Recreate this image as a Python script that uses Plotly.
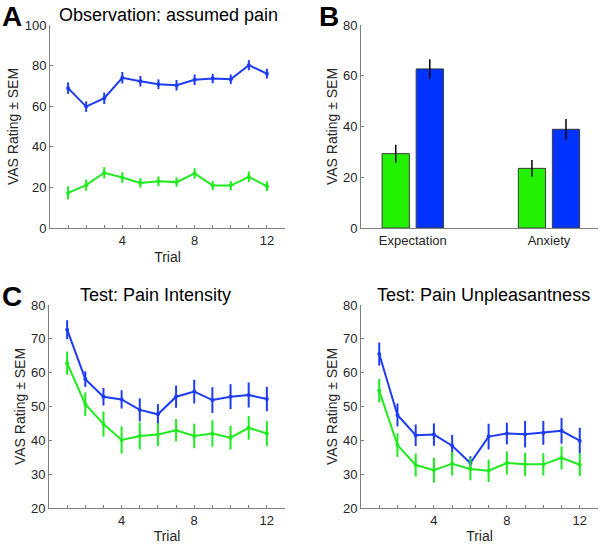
import plotly.graph_objects as go

W, H = 600, 544

trials = list(range(1, 13))

# Panel A: Observation - assumed pain
obs_blue = [68.9, 59.8, 63.9, 74.0, 72.3, 70.8, 70.3, 73.0, 73.6, 73.3, 80.2, 76.0]
obs_blue_sem = [2.8, 2.6, 2.8, 2.8, 2.6, 2.4, 2.6, 2.6, 2.3, 2.3, 2.5, 2.4]
obs_green = [17.3, 21.1, 27.2, 24.9, 22.2, 23.0, 22.6, 26.9, 20.9, 20.9, 25.2, 20.6]
obs_green_sem = [3.2, 2.8, 2.8, 2.6, 2.4, 2.4, 2.3, 2.6, 2.2, 2.2, 2.6, 2.4]

# Panel B: bars
bar_cats = ["Expectation", "Anxiety"]
bar_green = [29.3, 23.5]
bar_green_sem = [3.5, 3.3]
bar_blue = [62.7, 38.9]
bar_blue_sem = [3.8, 4.1]

# Panel C left: Pain intensity
int_blue = [72.7, 58.1, 52.9, 52.1, 49.0, 47.7, 52.9, 54.4, 51.9, 52.9, 53.4, 52.2]
int_blue_sem = [2.8, 2.3, 2.6, 2.7, 3.4, 3.0, 3.3, 3.5, 3.8, 3.7, 3.7, 3.6]
int_green = [62.8, 50.7, 44.8, 40.1, 41.3, 41.7, 43.0, 41.3, 42.0, 40.8, 43.7, 42.0]
int_green_sem = [3.4, 3.5, 3.7, 4.0, 4.0, 3.4, 3.3, 3.6, 3.9, 3.5, 3.5, 3.7]

# Panel C right: Pain unpleasantness
unp_blue = [65.5, 47.5, 41.5, 41.7, 38.4, 33.3, 41.1, 42.0, 41.8, 42.2, 42.8, 39.9]
unp_blue_sem = [3.4, 3.4, 3.2, 3.3, 3.2, 2.0, 3.8, 3.2, 3.9, 3.5, 3.8, 3.8]
unp_green = [54.7, 38.6, 32.7, 31.2, 33.1, 31.5, 31.0, 33.3, 32.9, 32.9, 34.8, 32.8]
unp_green_sem = [3.5, 3.5, 3.4, 3.7, 3.5, 3.3, 3.3, 3.4, 3.4, 3.3, 3.4, 3.4]

GREEN = "#1EEB1E"
BLUE = "#1E3CF5"
BAR_GREEN = "#22F200"
BAR_BLUE = "#0033FF"
FONT = "Liberation Sans, Arial, sans-serif"
TXT = "#262626"

fig = go.Figure()


def line_trace(y, sem, color, xa, ya):
    return go.Scatter(
        x=trials, y=y, mode="lines+markers",
        line=dict(color=color, width=2),
        marker=dict(color=color, size=4),
        error_y=dict(type="data", array=sem, color=color, thickness=2, width=0),
        xaxis=xa, yaxis=ya, showlegend=False, hoverinfo="skip",
    )


fig.add_trace(line_trace(obs_blue, obs_blue_sem, BLUE, "x", "y"))
fig.add_trace(line_trace(obs_green, obs_green_sem, GREEN, "x", "y"))

bar_x = [1, 2]
fig.add_trace(go.Bar(
    x=bar_x, y=bar_green, width=0.2, offset=-0.225,
    marker=dict(color=BAR_GREEN, line=dict(color="#3a3a3a", width=1)),
    error_y=dict(type="data", array=bar_green_sem, color="black", thickness=1.5, width=0),
    xaxis="x2", yaxis="y2", showlegend=False, hoverinfo="skip",
))
fig.add_trace(go.Bar(
    x=bar_x, y=bar_blue, width=0.2, offset=0.025,
    marker=dict(color=BAR_BLUE, line=dict(color="#3a3a3a", width=1)),
    error_y=dict(type="data", array=bar_blue_sem, color="black", thickness=1.5, width=0),
    xaxis="x2", yaxis="y2", showlegend=False, hoverinfo="skip",
))

fig.add_trace(line_trace(int_blue, int_blue_sem, BLUE, "x3", "y3"))
fig.add_trace(line_trace(int_green, int_green_sem, GREEN, "x3", "y3"))
fig.add_trace(line_trace(unp_blue, unp_blue_sem, BLUE, "x4", "y4"))
fig.add_trace(line_trace(unp_green, unp_green_sem, GREEN, "x4", "y4"))


def px_x(a, b):
    return [a / W, b / W]


def px_y(top, bottom):
    return [1 - bottom / H, 1 - top / H]


def trial_xaxis(domain, anchor):
    return dict(
        domain=domain, anchor=anchor, range=[0, 13], automargin=False,
        tickvals=[4, 8, 12], ticktext=["4", "8", "12"],
        ticks="inside", ticklen=3, tickcolor="#808080",
        minor=dict(ticks="inside", tickvals=trials, ticklen=3, tickcolor="#808080"),
        showline=True, linecolor="#808080", linewidth=1,
        showgrid=False, zeroline=False,
        tickfont=dict(size=13, color=TXT, family=FONT),
        title=dict(text="Trial", font=dict(size=14, color=TXT, family=FONT), standoff=5),
        fixedrange=True,
    )


def rating_yaxis(domain, anchor, rng, dtick):
    return dict(
        domain=domain, anchor=anchor, range=rng, dtick=dtick, tick0=0, automargin=False,
        ticks="inside", ticklen=3, tickcolor="#808080",
        showline=True, linecolor="#808080", linewidth=1,
        showgrid=False, zeroline=False,
        tickfont=dict(size=13, color=TXT, family=FONT),
        title=dict(text="VAS Rating ± SEM", font=dict(size=14, color=TXT, family=FONT), standoff=2),
        fixedrange=True,
    )


yA = px_y(25, 228)
yC = px_y(305, 508)

fig.update_layout(
    width=W, height=H,
    margin=dict(l=0, r=0, t=0, b=0, pad=0),
    paper_bgcolor="white", plot_bgcolor="white",
    font=dict(family=FONT, color=TXT),
    barmode="overlay",
    xaxis=trial_xaxis(px_x(50, 285), "y"),
    yaxis=rating_yaxis(yA, "x", [0, 100], 20),
    xaxis2=dict(
        domain=px_x(361, 598), anchor="y2", range=[0.62, 2.36], automargin=False,
        tickvals=bar_x, ticktext=bar_cats, ticks="",
        showline=True, linecolor="#808080", linewidth=1,
        showgrid=False, zeroline=False,
        tickfont=dict(size=13, color=TXT, family=FONT), fixedrange=True,
    ),
    yaxis2=rating_yaxis(yA, "x2", [0, 80], 20),
    xaxis3=trial_xaxis(px_x(49, 285), "y3"),
    yaxis3=rating_yaxis(yC, "x3", [20, 80], 10),
    xaxis4=trial_xaxis(px_x(361, 598), "y4"),
    yaxis4=rating_yaxis(yC, "x4", [20, 80], 10),
)

titles = [
    ("Observation: assumed pain", 168, 15),
    ("Test: Pain Intensity", 155, 295),
    ("Test: Pain Unpleasantness", 483, 295),
]
for txt, cx, cy in titles:
    fig.add_annotation(text=txt, x=cx / W, y=1 - cy / H, xref="paper", yref="paper",
                       xanchor="center", yanchor="middle", showarrow=False,
                       font=dict(size=18, color="black", family=FONT))

letters = [("A", 12, 0), ("B", 329, 0), ("C", 12, 280)]
for txt, cx, top in letters:
    fig.add_annotation(text="<b>%s</b>" % txt, x=cx / W, y=1 - top / H, xref="paper", yref="paper",
                       xanchor="center", yanchor="top", showarrow=False, borderpad=0,
                       font=dict(size=28, color="black", family=FONT))

fig.write_html(
    "out.html",
    config={"displayModeBar": False},
    post_script="document.body.style.margin='0';document.body.style.padding='0';"
                "document.documentElement.style.overflow='hidden';",
)
